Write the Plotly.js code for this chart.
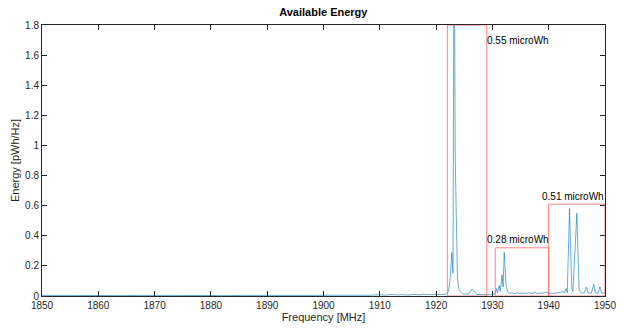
<!DOCTYPE html>
<html><head><meta charset="utf-8">
<script src="https://cdn.plot.ly/plotly-3.0.1.min.js"></script>
<style>html,body{margin:0;padding:0;background:#fff}#chart{width:623px;height:329px}</style>
</head><body><div id="chart"></div>
<script>
var freq = [1850,1853,1856,1859,1862,1865,1868,1871,1874,1877,1880,1883,1886,1889,1892,1895,1898,1901,1904,1906,1908,
1910,1911,1912,1913,1914,1915,1916,1917,1918,1919,1920,1921,1921.8,1922.2,1922.5,1922.8,1923.0,1923.2,1923.4,1923.6,1923.8,
1924.0,1924.3,1924.7,1925.2,1925.8,1926.2,1926.5,1926.8,1927.2,1927.8,1928.5,1929.2,1929.8,1930.4,1930.7,1930.9,1931.2,1931.4,
1931.7,1931.9,1932.1,1932.4,1932.7,1933.0,1933.5,1934,1934.5,1935,1935.5,1936,1936.5,1937,1937.5,1938,1938.5,1939,1939.5,
1940,1940.5,1941,1941.5,1942,1942.5,1942.8,1943.1,1943.3,1943.7,1944.1,1944.3,1945.0,1945.4,1945.8,1946.3,1946.7,1947.0,
1947.6,1948.0,1948.3,1948.8,1949.1,1949.4,1949.8,1950];
var energy = [0.004,0.003,0.004,0.003,0.004,0.003,0.004,0.003,0.004,0.003,0.004,0.003,0.004,0.003,0.004,0.003,0.004,0.005,0.004,0.006,0.005,
0.008,0.006,0.010,0.007,0.009,0.006,0.010,0.007,0.011,0.008,0.012,0.009,0.012,0.03,0.12,0.29,0.15,2.6,0.9,0.35,0.12,
0.05,0.03,0.015,0.012,0.015,0.04,0.045,0.03,0.01,0.01,0.008,0.009,0.01,0.012,0.05,0.02,0.07,0.03,
0.14,0.06,0.29,0.08,0.03,0.018,0.02,0.015,0.022,0.016,0.02,0.015,0.022,0.017,0.025,0.016,0.02,0.018,0.026,
0.018,0.02,0.016,0.022,0.02,0.03,0.02,0.05,0.02,0.58,0.05,0.03,0.55,0.04,0.02,0.02,0.06,0.02,
0.02,0.08,0.02,0.02,0.06,0.02,0.02,0.02];

var bandStart = [1922, 1930.5, 1940];
var bandEnd = [1929, 1940, 1950];
var bandTop = [1.8, 0.32, 0.61];
var bandLabel = ['0.55 microWh', '0.28 microWh', '0.51 microWh'];
var labelX = [1929, 1929, 1938.8];
var labelY = [1.70, 0.372, 0.664];

var xTicks = [1850,1860,1870,1880,1890,1900,1910,1920,1930,1940,1950];
var yTicks = [0,0.2,0.4,0.6,0.8,1,1.2,1.4,1.6,1.8];

var font = 'Liberation Sans, Arial, Helvetica, sans-serif';
var shapes = [], annotations = [];
for (var i = 0; i < bandStart.length; i++) {
  shapes.push({type:'rect', xref:'x', yref:'y', x0:bandStart[i], x1:bandEnd[i], y0:0, y1:bandTop[i],
    line:{color:'rgba(255,110,110,0.85)', width:1}, fillcolor:'rgba(0,0,0,0)', layer:'above'});
  annotations.push({xref:'x', yref:'y', x:labelX[i], y:labelY[i], text:bandLabel[i], showarrow:false,
    xanchor:'left', yanchor:'middle', xshift:-2, font:{family:font, size:10, color:'#000'}});
}

var trace = {x:freq, y:energy, type:'scatter', mode:'lines',
  line:{color:'#0072BD', width:0.6}, hoverinfo:'none'};

var axisCommon = {showgrid:false, zeroline:false, showline:true, linecolor:'#262626', linewidth:1,
  mirror:'ticks', ticks:'inside', ticklen:5, tickcolor:'#262626', tickwidth:1,
  tickfont:{family:font, size:10, color:'#262626'}};

var layout = {
  width:623, height:329,
  margin:{l:42, r:18, t:25, b:33},
  paper_bgcolor:'#fff', plot_bgcolor:'#fff',
  showlegend:false,
  title:{text:'<b>Available Energy</b>', font:{family:font, size:11, color:'#000'}, x:0.519, xanchor:'center', y:0.962, yanchor:'middle'},
  xaxis:Object.assign({}, axisCommon, {range:[1850,1950], tickvals:xTicks, ticktext:xTicks.map(String),
    title:{text:'Frequency [MHz]', font:{family:font, size:11, color:'#262626'}, standoff:3}}),
  yaxis:Object.assign({}, axisCommon, {range:[0,1.8], tickvals:yTicks, ticktext:yTicks.map(String),
    title:{text:'Energy [pWh/Hz]', font:{family:font, size:11, color:'#262626'}, standoff:3}}),
  shapes:shapes, annotations:annotations
};
Plotly.newPlot('chart', [trace], layout, {displayModeBar:false, staticPlot:true});
</script></body></html>
